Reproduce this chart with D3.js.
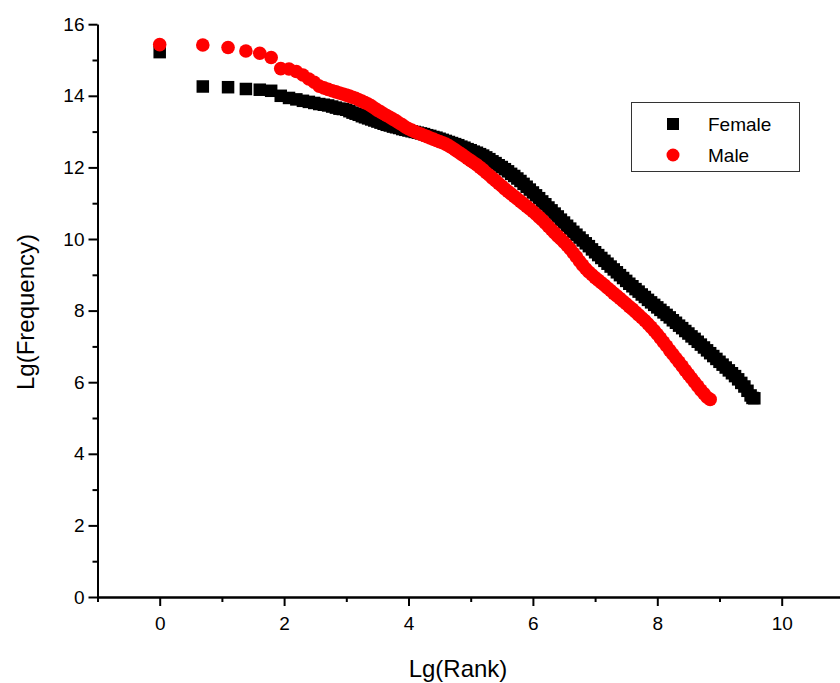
<!DOCTYPE html>
<html>
<head>
<meta charset="utf-8">
<script src="https://cdn.jsdelivr.net/npm/d3@7/dist/d3.min.js"></script>
<style>
  html, body { margin: 0; padding: 0; background: #fff; }
  svg { display: block; font-family: "Liberation Sans", Arial, sans-serif; }
</style>
</head>
<body>
<svg id="chart" width="840" height="683"></svg>
<script>
// ---- Data ----
// Female: Lg(Rank), Lg(Frequency)
const femaleX = [0, 0.693, 1.099, 1.386, 1.609, 1.792, 1.946, 2.079, 2.197, 2.303, 2.398, 2.485, 2.565, 2.639, 2.708, 2.773, 2.833, 2.890, 2.944,
  3.00, 3.05, 3.10, 3.15, 3.20, 3.25, 3.30, 3.35, 3.40, 3.45, 3.50, 3.55, 3.60, 3.65, 3.70, 3.75, 3.80, 3.85, 3.90, 3.95,
  4.00, 4.05, 4.10, 4.15, 4.20, 4.25, 4.30, 4.35, 4.40, 4.45, 4.50, 4.55, 4.60, 4.65, 4.70, 4.75, 4.80, 4.85, 4.90, 4.95,
  5.00, 5.05, 5.10, 5.15, 5.20, 5.25, 5.30, 5.35, 5.40, 5.45, 5.50, 5.55, 5.60, 5.65, 5.70, 5.75, 5.80, 5.85, 5.90, 5.95,
  6.00, 6.05, 6.10, 6.15, 6.20, 6.25, 6.30, 6.35, 6.40, 6.45, 6.50, 6.55, 6.60, 6.65, 6.70, 6.75, 6.80, 6.85, 6.90, 6.95,
  7.00, 7.05, 7.10, 7.15, 7.20, 7.25, 7.30, 7.35, 7.40, 7.45, 7.50, 7.55, 7.60, 7.65, 7.70, 7.75, 7.80, 7.85, 7.90, 7.95,
  8.00, 8.05, 8.10, 8.15, 8.20, 8.25, 8.30, 8.35, 8.40, 8.45, 8.50, 8.55, 8.60, 8.65, 8.70, 8.75, 8.80, 8.85, 8.90, 8.95,
  9.00, 9.05, 9.10, 9.15, 9.20, 9.25, 9.30, 9.35, 9.40, 9.45, 9.50, 9.53, 9.56];
const femaleY = [15.22, 14.26, 14.24, 14.19, 14.17, 14.14, 14.00, 13.94, 13.90, 13.86, 13.83, 13.80, 13.77, 13.75, 13.73, 13.70, 13.67, 13.64, 13.63,
  13.61, 13.57, 13.53, 13.50, 13.47, 13.43, 13.40, 13.37, 13.34, 13.31, 13.28, 13.25, 13.22, 13.19, 13.17, 13.14, 13.12, 13.10, 13.07, 13.05,
  13.03, 13.01, 12.99, 12.97, 12.95, 12.93, 12.90, 12.88, 12.85, 12.83, 12.80, 12.77, 12.74, 12.71, 12.68, 12.65, 12.62, 12.58, 12.55, 12.51,
  12.48, 12.44, 12.41, 12.37, 12.33, 12.28, 12.23, 12.17, 12.12, 12.06, 12.01, 11.95, 11.89, 11.82, 11.76, 11.69, 11.62, 11.54, 11.46, 11.38,
  11.30, 11.22, 11.14, 11.05, 10.97, 10.88, 10.80, 10.71, 10.63, 10.54, 10.46, 10.37, 10.29, 10.20, 10.12, 10.04, 9.96, 9.88, 9.80, 9.71,
  9.63, 9.55, 9.47, 9.39, 9.31, 9.23, 9.15, 9.07, 8.99, 8.91, 8.83, 8.75, 8.68, 8.60, 8.53, 8.45, 8.38, 8.30, 8.23, 8.16,
  8.09, 8.02, 7.95, 7.88, 7.81, 7.73, 7.66, 7.58, 7.51, 7.43, 7.36, 7.28, 7.21, 7.13, 7.05, 6.97, 6.89, 6.81, 6.73, 6.65,
  6.57, 6.49, 6.41, 6.33, 6.25, 6.17, 6.08, 5.98, 5.88, 5.76, 5.63, 5.56, 5.55];

// Male: Lg(Rank), Lg(Frequency)
const maleX = [0, 0.693, 1.099, 1.386, 1.609, 1.792, 1.946, 2.079, 2.197, 2.303, 2.398, 2.485, 2.565, 2.639, 2.708, 2.773, 2.833, 2.890, 2.944,
  3.00, 3.05, 3.10, 3.15, 3.20, 3.25, 3.30, 3.35, 3.40, 3.45, 3.50, 3.55, 3.60, 3.65, 3.70, 3.75, 3.80, 3.85, 3.90, 3.95,
  4.00, 4.05, 4.10, 4.15, 4.20, 4.25, 4.30, 4.35, 4.40, 4.45, 4.50, 4.55, 4.60, 4.65, 4.70, 4.75, 4.80, 4.85, 4.90, 4.95,
  5.00, 5.05, 5.10, 5.15, 5.20, 5.25, 5.30, 5.35, 5.40, 5.45, 5.50, 5.55, 5.60, 5.65, 5.70, 5.75, 5.80, 5.85, 5.90, 5.95,
  6.00, 6.05, 6.10, 6.15, 6.20, 6.25, 6.30, 6.35, 6.40, 6.45, 6.50, 6.55, 6.60, 6.65, 6.70, 6.75, 6.80, 6.85, 6.90, 6.95,
  7.00, 7.05, 7.10, 7.15, 7.20, 7.25, 7.30, 7.35, 7.40, 7.45, 7.50, 7.55, 7.60, 7.65, 7.70, 7.75, 7.80, 7.85, 7.90, 7.95,
  8.00, 8.05, 8.10, 8.15, 8.20, 8.25, 8.30, 8.35, 8.40, 8.45, 8.50, 8.55, 8.60, 8.65, 8.70, 8.75, 8.80, 8.85];
const maleY = [15.43, 15.42, 15.35, 15.25, 15.19, 15.07, 14.76, 14.75, 14.68, 14.58, 14.47, 14.38, 14.27, 14.22, 14.18, 14.14, 14.11, 14.08, 14.05,
  14.02, 13.99, 13.96, 13.93, 13.89, 13.85, 13.81, 13.77, 13.72, 13.66, 13.60, 13.55, 13.50, 13.45, 13.40, 13.35, 13.30, 13.24, 13.19, 13.13,
  13.08, 13.04, 13.00, 12.96, 12.93, 12.89, 12.86, 12.82, 12.79, 12.75, 12.72, 12.69, 12.65, 12.60, 12.55, 12.49, 12.43, 12.37, 12.31, 12.25,
  12.19, 12.13, 12.07, 12.00, 11.93, 11.85, 11.78, 11.70, 11.63, 11.55, 11.48, 11.40, 11.33, 11.26, 11.19, 11.12, 11.05, 10.98, 10.91, 10.84,
  10.77, 10.69, 10.61, 10.53, 10.44, 10.35, 10.26, 10.17, 10.08, 10.00, 9.91, 9.82, 9.72, 9.61, 9.50, 9.38, 9.27, 9.17, 9.08, 9.00,
  8.92, 8.85, 8.78, 8.71, 8.63, 8.56, 8.48, 8.41, 8.34, 8.26, 8.19, 8.11, 8.04, 7.96, 7.88, 7.80, 7.72, 7.63, 7.54, 7.44,
  7.34, 7.23, 7.12, 7.01, 6.89, 6.78, 6.67, 6.56, 6.45, 6.33, 6.22, 6.11, 6.00, 5.89, 5.78, 5.68, 5.58, 5.52];

const xMajorTicks = [0, 2, 4, 6, 8, 10];
const xMinorTicks = [-1, 1, 3, 5, 7, 9, 11];
const yMajorTicks = [0, 2, 4, 6, 8, 10, 12, 14, 16];
const yMinorTicks = [1, 3, 5, 7, 9, 11, 13, 15];
const seriesNames = ["Female", "Male"];
const seriesColors = ["#000000", "#ff0000"];

// ---- Layout ----
const svg = d3.select("#chart");
const x = d3.scaleLinear().domain([-1, 11]).range([97.5, 843.9]);
const y = d3.scaleLinear().domain([0, 16]).range([597, 24.2]);

const female = femaleX.map((v, i) => ({x: v, y: femaleY[i]}));
const male = maleX.map((v, i) => ({x: v, y: maleY[i]}));

// ---- Data marks ----
const sq = 12.5;
svg.append("g").selectAll("rect").data(female).join("rect")
  .attr("x", d => x(d.x) - sq / 2).attr("y", d => y(d.y) - sq / 2)
  .attr("width", sq).attr("height", sq).attr("fill", seriesColors[0]);

svg.append("g").selectAll("circle").data(male).join("circle")
  .attr("cx", d => x(d.x)).attr("cy", d => y(d.y)).attr("r", 6.8)
  .attr("fill", seriesColors[1]);

// ---- Axes ----
function styleAxis(g) {
  g.select(".domain").attr("stroke", "#000").attr("stroke-width", 2);
  g.selectAll(".tick line").attr("stroke", "#000").attr("stroke-width", 2);
  g.selectAll(".tick text").attr("fill", "#000").attr("font-size", 19)
    .attr("font-family", "'Liberation Sans', Arial, sans-serif");
}

svg.append("g").attr("transform", `translate(0,${y(0)})`)
  .call(d3.axisBottom(x).tickValues(xMinorTicks).tickSize(5).tickSizeOuter(0).tickFormat(""))
  .call(styleAxis);
svg.append("g").attr("transform", `translate(0,${y(0)})`)
  .call(d3.axisBottom(x).tickValues(xMajorTicks).tickSize(9).tickSizeOuter(0).tickPadding(11).tickFormat(d3.format("d")))
  .call(styleAxis);

svg.append("g").attr("transform", `translate(${x(-1)},0)`)
  .call(d3.axisLeft(y).tickValues(yMinorTicks).tickSize(5).tickSizeOuter(0).tickFormat(""))
  .call(styleAxis);
svg.append("g").attr("transform", `translate(${x(-1)},0)`)
  .call(d3.axisLeft(y).tickValues(yMajorTicks).tickSize(9).tickSizeOuter(0).tickPadding(4).tickFormat(d3.format("d")))
  .call(styleAxis);

// ---- Axis titles ----
svg.append("text").attr("x", 458).attr("y", 677).attr("text-anchor", "middle")
  .attr("font-size", 24).attr("fill", "#000").text("Lg(Rank)");
svg.append("text").attr("transform", "translate(34,312) rotate(-90)").attr("text-anchor", "middle")
  .attr("font-size", 24).attr("fill", "#000").text("Lg(Frequency)");

// ---- Legend ----
const lg = svg.append("g");
lg.append("rect").attr("x", 631.5).attr("y", 102.5).attr("width", 168).attr("height", 69)
  .attr("fill", "#fff").attr("stroke", "#333").attr("stroke-width", 1);
lg.append("rect").attr("x", 673 - 6).attr("y", 124 - 6).attr("width", 12).attr("height", 12).attr("fill", seriesColors[0]);
lg.append("circle").attr("cx", 673).attr("cy", 155).attr("r", 6.5).attr("fill", seriesColors[1]);
lg.append("text").attr("x", 708).attr("y", 131).attr("font-size", 19).attr("fill", "#000").text(seriesNames[0]);
lg.append("text").attr("x", 708).attr("y", 162).attr("font-size", 19).attr("fill", "#000").text(seriesNames[1]);
</script>
</body>
</html>
